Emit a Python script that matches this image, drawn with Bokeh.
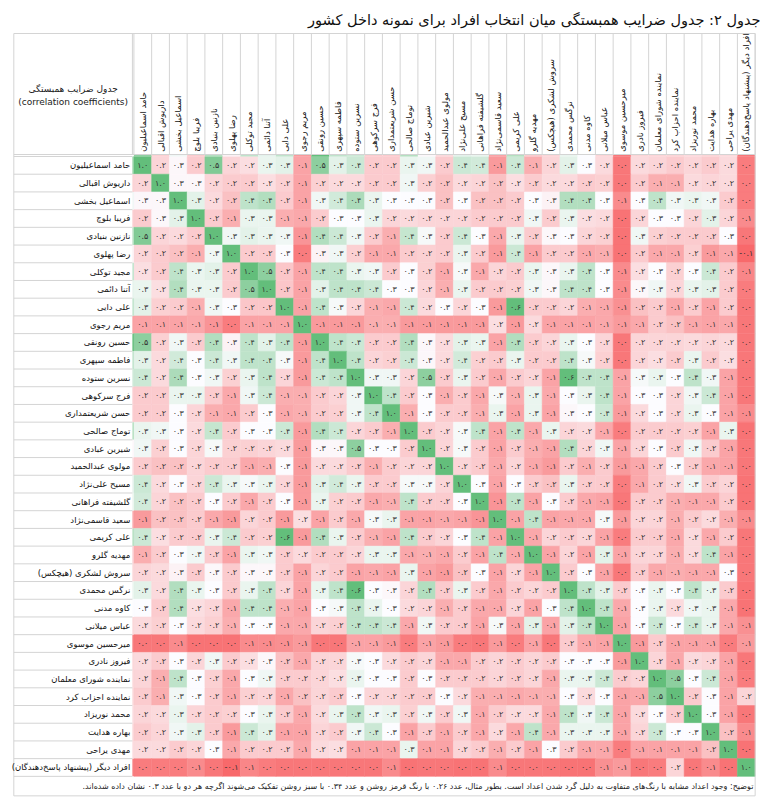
import numpy as np
from bokeh.plotting import figure
from bokeh.models import Range1d, ColumnDataSource, LinearColorMapper, Label
from bokeh.transform import transform
from bokeh.core.properties import value
from bokeh.embed import file_html
from bokeh.resources import INLINE

# People in the survey (rows and columns share the same order)
names = [
    "حامد اسماعیلیون", "داریوش اقبالی", "اسماعیل بخشی", "فریبا بلوچ",
    "نازنین بنیادی", "رضا پهلوی", "مجید توکلی", "آتنا دائمی", "علی دایی",
    "مریم رجوی", "حسین رونقی", "فاطمه سپهری", "نسرین ستوده", "فرج سرکوهی",
    "حسن شریعتمداری", "توماج صالحی", "شیرین عبادی", "مولوی عبدالحمید",
    "مسیح علی‌نژاد", "گلشیفته فراهانی", "سعید قاسمی‌نژاد", "علی کریمی",
    "مهدیه گلرو", "سروش لشکری (هیچکس)", "نرگس محمدی", "کاوه مدنی",
    "عباس میلانی", "میرحسین موسوی", "فیروز نادری", "نماینده شورای معلمان",
    "نماینده احزاب کرد", "محمد نوریزاد", "بهاره هدایت", "مهدی یراحی",
    "افراد دیگر (پیشنهاد پاسخ‌دهندگان)",
]

# Lower triangle of the correlation matrix (unrounded coefficients):
# row k lists its values for columns 1..k-1; the cells print them to one decimal
lower = [
    [],
    [0.22],
    [0.29, 0.29],
    [0.20, 0.29, 0.34],
    [0.50, 0.22, 0.23, 0.20],
    [0.22, 0.20, 0.18, 0.14, 0.32],
    [0.24, 0.20, 0.40, 0.33, 0.34, 0.20],
    [0.33, 0.24, 0.42, 0.33, 0.33, 0.20, 0.48],
    [0.34, 0.21, 0.20, 0.14, 0.32, 0.30, 0.19, 0.19],
    [0.12, 0.12, 0.12, 0.13, 0.09, 0.04, 0.12, 0.12, 0.12],
    [0.48, 0.21, 0.32, 0.20, 0.42, 0.28, 0.40, 0.34, 0.40, 0.10],
    [0.34, 0.23, 0.37, 0.30, 0.38, 0.32, 0.40, 0.40, 0.31, 0.10, 0.40],
    [0.38, 0.23, 0.43, 0.30, 0.32, 0.21, 0.33, 0.40, 0.22, 0.10, 0.38, 0.40],
    [0.20, 0.20, 0.33, 0.33, 0.20, 0.13, 0.32, 0.38, 0.14, 0.14, 0.20, 0.22, 0.32],
    [0.20, 0.20, 0.30, 0.22, 0.14, 0.13, 0.20, 0.30, 0.13, 0.14, 0.20, 0.21, 0.32, 0.40],
    [0.33, 0.32, 0.30, 0.23, 0.39, 0.20, 0.30, 0.30, 0.38, 0.10, 0.42, 0.38, 0.22, 0.20, 0.14],
    [0.32, 0.21, 0.30, 0.22, 0.31, 0.21, 0.21, 0.22, 0.23, 0.10, 0.29, 0.29, 0.48, 0.30, 0.30, 0.20],
    [0.20, 0.18, 0.18, 0.22, 0.20, 0.20, 0.13, 0.14, 0.30, 0.10, 0.23, 0.23, 0.20, 0.14, 0.20, 0.22, 0.22],
    [0.38, 0.23, 0.30, 0.22, 0.38, 0.33, 0.31, 0.33, 0.22, 0.10, 0.34, 0.37, 0.33, 0.20, 0.20, 0.31, 0.31, 0.22],
    [0.37, 0.22, 0.18, 0.20, 0.30, 0.20, 0.13, 0.20, 0.30, 0.10, 0.33, 0.21, 0.20, 0.13, 0.14, 0.40, 0.20, 0.20, 0.30],
    [0.10, 0.18, 0.18, 0.20, 0.13, 0.10, 0.22, 0.20, 0.10, 0.24, 0.12, 0.20, 0.13, 0.31, 0.33, 0.12, 0.12, 0.13, 0.12, 0.09],
    [0.38, 0.24, 0.20, 0.20, 0.33, 0.38, 0.20, 0.21, 0.60, 0.10, 0.42, 0.33, 0.20, 0.14, 0.12, 0.40, 0.20, 0.22, 0.30, 0.40, 0.12],
    [0.14, 0.20, 0.30, 0.32, 0.20, 0.12, 0.33, 0.32, 0.20, 0.23, 0.20, 0.20, 0.22, 0.33, 0.33, 0.13, 0.14, 0.13, 0.20, 0.12, 0.40, 0.13],
    [0.22, 0.23, 0.28, 0.20, 0.29, 0.20, 0.29, 0.29, 0.20, 0.12, 0.22, 0.20, 0.12, 0.13, 0.12, 0.33, 0.12, 0.10, 0.18, 0.30, 0.12, 0.22, 0.12],
    [0.34, 0.23, 0.42, 0.33, 0.30, 0.20, 0.33, 0.40, 0.22, 0.12, 0.33, 0.40, 0.58, 0.30, 0.29, 0.22, 0.42, 0.20, 0.33, 0.20, 0.13, 0.20, 0.22, 0.20],
    [0.30, 0.20, 0.42, 0.24, 0.22, 0.13, 0.40, 0.40, 0.14, 0.12, 0.30, 0.31, 0.40, 0.33, 0.30, 0.23, 0.22, 0.14, 0.20, 0.13, 0.13, 0.22, 0.12, 0.30, 0.40],
    [0.23, 0.21, 0.30, 0.23, 0.21, 0.14, 0.30, 0.30, 0.13, 0.13, 0.22, 0.21, 0.40, 0.40, 0.38, 0.13, 0.32, 0.20, 0.20, 0.12, 0.31, 0.12, 0.34, 0.12, 0.34, 0.40],
    [0.03, 0.03, 0.07, 0.02, 0.02, 0.02, 0.07, 0.07, 0.08, 0.10, 0.03, 0.03, 0.12, 0.12, 0.10, 0.04, 0.12, 0.10, 0.04, 0.03, 0.10, 0.04, 0.12, 0.03, 0.20, 0.13, 0.12],
    [0.23, 0.20, 0.30, 0.22, 0.32, 0.20, 0.24, 0.29, 0.18, 0.13, 0.22, 0.22, 0.31, 0.30, 0.23, 0.20, 0.22, 0.13, 0.13, 0.20, 0.22, 0.20, 0.22, 0.20, 0.30, 0.30, 0.30, 0.10],
    [0.22, 0.14, 0.40, 0.30, 0.21, 0.13, 0.30, 0.32, 0.20, 0.20, 0.22, 0.24, 0.33, 0.30, 0.30, 0.20, 0.30, 0.20, 0.20, 0.20, 0.22, 0.20, 0.22, 0.13, 0.33, 0.33, 0.38, 0.20, 0.22],
    [0.20, 0.14, 0.32, 0.30, 0.20, 0.13, 0.21, 0.22, 0.13, 0.18, 0.22, 0.20, 0.30, 0.22, 0.22, 0.20, 0.20, 0.30, 0.23, 0.14, 0.14, 0.13, 0.14, 0.14, 0.30, 0.23, 0.30, 0.12, 0.13, 0.48],
    [0.22, 0.23, 0.33, 0.22, 0.20, 0.21, 0.30, 0.33, 0.20, 0.13, 0.23, 0.33, 0.40, 0.32, 0.33, 0.21, 0.32, 0.20, 0.32, 0.13, 0.20, 0.23, 0.23, 0.13, 0.40, 0.32, 0.38, 0.12, 0.23, 0.30, 0.20],
    [0.20, 0.22, 0.32, 0.34, 0.20, 0.10, 0.38, 0.34, 0.12, 0.12, 0.22, 0.20, 0.32, 0.38, 0.30, 0.12, 0.20, 0.13, 0.20, 0.13, 0.23, 0.13, 0.40, 0.13, 0.33, 0.33, 0.33, 0.12, 0.22, 0.38, 0.30, 0.30],
    [0.23, 0.23, 0.20, 0.22, 0.30, 0.13, 0.20, 0.20, 0.20, 0.13, 0.23, 0.24, 0.12, 0.12, 0.12, 0.33, 0.12, 0.12, 0.22, 0.20, 0.14, 0.20, 0.12, 0.30, 0.20, 0.13, 0.13, 0.04, 0.12, 0.12, 0.12, 0.12, 0.18],
    [0.04, 0.04, 0.04, 0.07, 0.03, -0.06, 0.06, 0.04, 0.03, 0.03, 0.03, 0.03, 0.03, 0.03, 0.07, 0.02, 0.03, 0.03, 0.02, 0.02, 0.07, 0.03, 0.03, 0.03, 0.02, 0.02, 0.08, 0.10, 0.03, 0.04, 0.22, 0.03, 0.07, 0.02],
]

title_text = "جدول ۲: جدول ضرایب همبستگی میان انتخاب افراد برای نمونه داخل کشور"
corner_fa = "جدول ضرایب همبستگی"
corner_en = "(correlation coefficients)"
note_text = ("توضیح: وجود اعداد مشابه با رنگ‌های متفاوت به دلیل گرد شدن اعداد است. "
             "بطور مثال، عدد ۰.۲۶ با رنگ قرمز روشن و عدد ۰.۳۴ با سبز روشن تفکیک "
             "می‌شوند اگرچه هر دو با عدد ۰.۳ نشان داده شده‌اند.\u200f")

# ---- full symmetric matrix ----
n = len(names)
M = np.eye(n)
for i, row in enumerate(lower):
    for j, v in enumerate(row):
        M[i, j] = M[j, i] = v

FA = str.maketrans("0123456789", "۰۱۲۳۴۵۶۷۸۹")


def fa_num(v):
    return f"{v:.1f}".translate(FA)


# ---- red / white / green colour scale ----
RED, WHITE, GREEN = (248, 105, 107), (252, 252, 255), (99, 190, 123)
LO, MID, HI = 0.0, 0.3, 0.55
palette = []
for k in range(256):
    t = LO + (HI - LO) * k / 255
    if t <= MID:
        f = (t - LO) / (MID - LO)
        c = [RED[q] + (WHITE[q] - RED[q]) * f for q in range(3)]
    else:
        f = (t - MID) / (HI - MID)
        c = [WHITE[q] + (GREEN[q] - WHITE[q]) * f for q in range(3)]
    palette.append("#%02x%02x%02x" % tuple(int(round(x)) for x in c))
mapper = LinearColorMapper(palette=palette, low=LO, high=HI)

# ---- page geometry (one data unit = one table cell) ----
W, H = 770, 808
X0, Y0 = 133.4, 156.0   # top-left corner of the coloured block
CW, RH = 17.75, 17.71   # cell size in pixels

p = figure(width=W, height=H, output_backend="svg", toolbar_location=None,
           x_range=Range1d(-X0 / CW, (W - X0) / CW),
           y_range=Range1d((H - Y0) / RH, -Y0 / RH),
           min_border=0, outline_line_color=None, background_fill_color="white")
p.axis.visible = False
p.grid.visible = False

FONT = value("DejaVu Sans")
GRID = "#d4d4d4"

left_edge = (13.3 - X0) / CW
top_edge = (33 - Y0) / RH
hdr_bottom = -2 / RH
lbl_right = -1.5 / CW
note_bottom = n + 19.5 / RH

# ---- coloured cells ----
xs, ys, vs, ts = [], [], [], []
for i in range(n):
    for j in range(n):
        xs.append(j + 0.5)
        ys.append(i + 0.5)
        vs.append(M[i, j])
        ts.append(fa_num(M[i, j]))
src = ColumnDataSource(dict(x=xs, y=ys, v=vs, t=ts))
p.rect(x="x", y="y", width=1, height=1, source=src,
       fill_color=transform("v", mapper), line_color=transform("v", mapper),
       line_width=0.5)
p.text(x="x", y="y", text="t", source=src, text_align="center",
       text_baseline="middle", text_font=FONT, text_font_size="8px",
       text_color="#333333")

# thin coloured edge strips along the label column and header row
strip_vals = list(M[:, 10])
strip_cols = [palette[int(np.clip((v - LO) / (HI - LO), 0, 1) * 255)] for v in strip_vals]
p.quad(left=[lbl_right] * n, right=[0] * n, top=list(range(n)),
       bottom=[k + 1 for k in range(n)], fill_color=strip_cols, line_color=None)
p.quad(left=list(range(n)), right=[k + 1 for k in range(n)], top=[hdr_bottom] * n,
       bottom=[0] * n, fill_color=strip_cols, line_color=None)

# ---- table rules ----
# vertical rules in the header row
p.segment(x0=list(range(n + 1)), x1=list(range(n + 1)),
          y0=[top_edge] * (n + 1), y1=[hdr_bottom] * (n + 1),
          line_color=GRID, line_width=1)
# horizontal rules between the row labels
p.segment(x0=[left_edge] * (n + 1), x1=[lbl_right] * (n + 1),
          y0=list(range(n + 1)), y1=list(range(n + 1)),
          line_color=GRID, line_width=1)
# outer frame, header bottom and note row
p.segment(x0=[left_edge, left_edge, left_edge, lbl_right, n, n, left_edge],
          x1=[n, n, left_edge, lbl_right, n, n, n],
          y0=[top_edge, hdr_bottom, top_edge, top_edge, top_edge, n, note_bottom],
          y1=[top_edge, hdr_bottom, note_bottom, hdr_bottom, n, note_bottom, note_bottom],
          line_color=GRID, line_width=1)

# ---- row labels ----
p.text(x=[lbl_right - 0.12] * n, y=[k + 0.5 for k in range(n)], text=names,
       text_align="right", text_baseline="middle", text_font=FONT,
       text_font_size="8.5px", text_color="#111111")

# ---- rotated column labels ----
p.text(x=[k + 0.5 for k in range(n)], y=[hdr_bottom - 0.15] * n, text=names,
       angle=np.pi / 2, text_align="left", text_baseline="middle",
       text_font=FONT, text_font_size="8.5px", text_color="#111111")

# ---- corner cell ----
cx = (left_edge + lbl_right) / 2
p.text(x=[cx, cx], y=[(88 - Y0) / RH, (101 - Y0) / RH], text=[corner_fa, corner_en],
       text_align="center", text_baseline="middle", text_font=FONT,
       text_font_size="9px", text_color="#222222")

# ---- title and note ----
p.add_layout(Label(x=(760 - X0) / CW, y=(19 - Y0) / RH, text=title_text,
                   text_align="right", text_baseline="middle",
                   text_font="DejaVu Sans", text_font_size="14.5px",
                   text_color="#111111"))
p.add_layout(Label(x=n - 0.1, y=n + 10 / RH, text=note_text,
                   text_align="right", text_baseline="middle",
                   text_font="DejaVu Sans", text_font_size="8px",
                   text_color="#222222"))

open("out.html", "w").write(file_html(p, INLINE))
